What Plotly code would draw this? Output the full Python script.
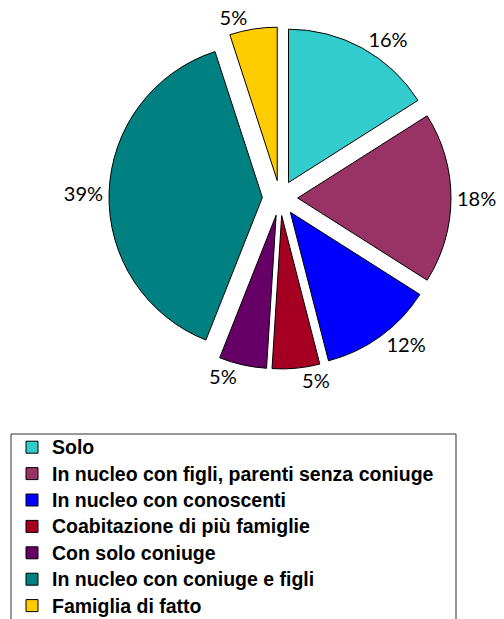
"""Pie chart: household composition."""

import plotly.graph_objects as go

categories = [
    "Solo",
    "In nucleo con figli, parenti senza coniuge",
    "In nucleo con conoscenti",
    "Coabitazione di più famiglie",
    "Con solo coniuge",
    "In nucleo con coniuge e figli",
    "Famiglia di fatto",
]
shares = [16, 18, 12, 5, 5, 39, 5]
colors = ["#33CCCC", "#993366", "#0000FF", "#A50021", "#660066", "#008080", "#FFCC00"]

W, H = 504, 619

fig = go.Figure()

fig.add_trace(
    go.Pie(
        labels=["<span style='font-size:19.5px'><b>%s</b></span>" % c for c in categories],
        values=shares,
        sort=False,
        direction="clockwise",
        rotation=0,
        pull=0.115,
        marker=dict(colors=colors, line=dict(color="#000000", width=1)),
        texttemplate="%{percent:.0%}",
        textposition="outside",
        outsidetextfont=dict(family="Lato, Open Sans, sans-serif", size=20, color="#000000"),
        domain=dict(x=[(280 - 171) / W, (280 + 171) / W], y=[1 - 371 / H, 1 - 25 / H]),
        hoverinfo="percent",
    )
)

# legend frame (runs past the bottom edge like the original)
fig.add_shape(
    type="rect", xref="paper", yref="paper",
    x0=11 / W, x1=456 / W, y0=-0.05, y1=1 - 434 / H,
    line=dict(color="#303030", width=1),
)

fig.update_layout(
    width=W,
    height=H,
    margin=dict(l=0, r=0, t=0, b=0, autoexpand=False),
    paper_bgcolor="white",
    plot_bgcolor="white",
    showlegend=True,
    legend=dict(
        x=12 / W,
        y=-5 / H,
        xanchor="left",
        yanchor="bottom",
        font=dict(family="Liberation Sans, Arial, sans-serif", size=18, color="#000000"),
        bgcolor="rgba(0,0,0,0)",
        borderwidth=0,
        itemwidth=30,
    ),
)

fig.write_html(
    "out.html",
    config={"displayModeBar": False},
    post_script="document.body.style.margin='0';",
)
